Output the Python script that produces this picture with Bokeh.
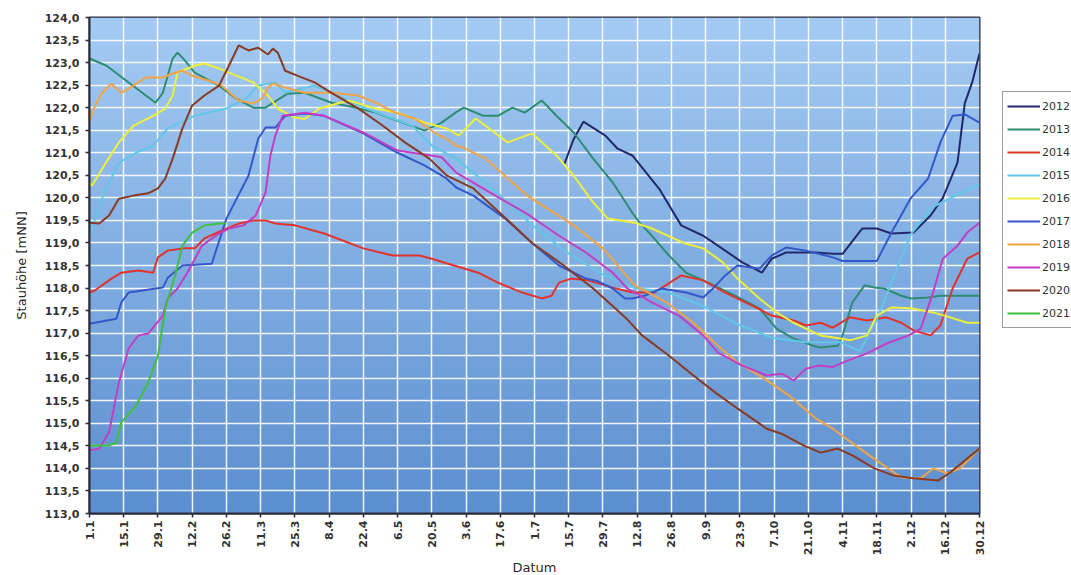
import numpy as np
from bokeh.plotting import figure
from bokeh.models import FixedTicker, CustomJSTickFormatter, Legend, LegendItem, Range1d
from bokeh.embed import file_html
from bokeh.resources import INLINE

# ---------------- data ----------------
x_tick_days = list(range(0, 365, 14))
x_tick_labels = ["1.1", "15.1", "29.1", "12.2", "26.2", "11.3", "25.3", "8.4", "22.4", "6.5",
                 "20.5", "3.6", "17.6", "1.7", "15.7", "29.7", "12.8", "26.8", "9.9", "23.9",
                 "7.10", "21.10", "4.11", "18.11", "2.12", "16.12", "30.12"]
y_ticks = [113.0 + 0.5 * i for i in range(23)]

years = ["2012", "2013", "2014", "2015", "2016", "2017", "2018", "2019", "2020", "2021"]
colors = ["#22296A", "#2E8C72", "#E2322C", "#62C6E6", "#EEEE3C", "#3558C8",
          "#F2A445", "#C23EC4", "#8A3A20", "#3EC03E"]

day_2012 = [194, 198, 202, 211, 216, 222, 233, 242, 251, 257, 267, 275, 279, 285, 297, 304, 308,
            316, 322, 328, 337, 344, 349, 355, 358, 361, 364]
val_2012 = [120.72, 121.3, 121.69, 121.38, 121.09, 120.94, 120.2, 119.39, 119.16, 118.94, 118.57,
            118.34, 118.65, 118.79, 118.79, 118.76, 118.76, 119.32, 119.32, 119.21, 119.23, 119.61,
            120.0, 120.78, 122.1, 122.56, 123.2]

day_2013 = [0, 7, 16, 27, 30, 34, 36, 39, 43, 53, 60, 67, 72, 81, 88, 99, 109, 117, 126, 137, 144,
            150, 153, 161, 167, 173, 178, 185, 191, 198, 206, 214, 222, 225, 230, 237, 244, 253,
            264, 274, 281, 288, 296, 299, 306, 308, 312, 317, 321, 325, 332, 336, 343, 348, 356, 364]
val_2013 = [123.09, 122.93, 122.56, 122.11, 122.33, 123.09, 123.22, 123.05, 122.78, 122.49, 122.2,
            122.0, 122.0, 122.31, 122.33, 122.11, 122.0, 121.89, 121.71, 121.49, 121.67, 121.9,
            122.0, 121.82, 121.82, 122.0, 121.89, 122.16, 121.82, 121.45, 120.87, 120.34, 119.67,
            119.45, 119.16, 118.72, 118.34, 118.12, 117.83, 117.55, 117.1, 116.88, 116.72, 116.68,
            116.72, 116.95, 117.68, 118.06, 118.01, 117.99, 117.83, 117.77, 117.79, 117.83, 117.83,
            117.83]

day_2014 = [0, 2, 9, 13, 20, 26, 28, 32, 39, 43, 47, 54, 61, 67, 72, 76, 84, 96, 112, 124, 135,
            140, 146, 159, 167, 177, 185, 189, 192, 197, 204, 214, 222, 231, 242, 251, 260, 271,
            279, 288, 293, 299, 304, 311, 318, 326, 332, 337, 344, 348, 353, 359, 364]
val_2014 = [117.9, 117.94, 118.21, 118.34, 118.39, 118.34, 118.68, 118.83, 118.88, 118.88, 119.1,
            119.27, 119.43, 119.5, 119.5, 119.43, 119.39, 119.21, 118.88, 118.72, 118.72, 118.65,
            118.55, 118.34, 118.12, 117.9, 117.77, 117.83, 118.12, 118.21, 118.17, 118.01, 117.9,
            117.9, 118.28, 118.17, 117.9, 117.61, 117.39, 117.28, 117.17, 117.23, 117.12, 117.35,
            117.28, 117.35, 117.23, 117.06, 116.95, 117.17, 117.99, 118.65, 118.79]

day_2015 = [0, 6, 12, 19, 26, 32, 43, 56, 64, 69, 76, 80, 92, 99, 110, 121, 132, 140, 150, 156,
            167, 181, 195, 210, 223, 237, 251, 265, 279, 293, 307, 315, 322, 330, 336, 345, 356, 364]
val_2015 = [119.16, 120.12, 120.78, 121.0, 121.16, 121.54, 121.82, 121.98, 122.2, 122.49, 122.56,
            122.33, 122.49, 122.33, 122.05, 121.82, 121.6, 121.16, 120.87, 120.6, 120.1, 119.4,
            118.8, 118.3, 118.0, 117.9, 117.6, 117.2, 116.9, 116.8, 116.8, 116.6, 117.3, 118.4,
            119.2, 119.8, 120.1, 120.3]

day_2016 = [0, 1, 6, 12, 18, 26, 31, 34, 36, 43, 47, 53, 60, 67, 73, 77, 84, 88, 94, 106, 117,
            126, 137, 146, 151, 158, 171, 181, 191, 198, 206, 212, 223, 230, 243, 251, 259, 265,
            274, 281, 288, 293, 299, 307, 311, 318, 322, 328, 336, 345, 352, 359, 364]
val_2016 = [120.34, 120.27, 120.72, 121.23, 121.6, 121.82, 121.98, 122.27, 122.78, 122.93, 122.98,
            122.87, 122.71, 122.56, 122.27, 121.98, 121.78, 121.75, 121.98, 122.16, 121.98, 121.89,
            121.67, 121.54, 121.38, 121.76, 121.23, 121.43, 120.94, 120.49, 119.9, 119.54, 119.45,
            119.32, 119.0, 118.88, 118.57, 118.21, 117.77, 117.46, 117.23, 117.1, 116.95, 116.88,
            116.84, 116.95, 117.39, 117.57, 117.55, 117.46, 117.35, 117.23, 117.23]

day_2017 = [0, 11, 13, 16, 30, 32, 38, 50, 56, 65, 69, 72, 76, 80, 88, 96, 112, 126, 137, 146,
            150, 157, 170, 181, 192, 203, 208, 214, 219, 222, 227, 234, 244, 251, 255, 260, 265,
            274, 279, 285, 293, 304, 308, 322, 328, 336, 343, 348, 353, 358, 364]
val_2017 = [117.21, 117.32, 117.68, 117.9, 118.01, 118.23, 118.5, 118.54, 119.54, 120.49, 121.31,
            121.56, 121.56, 121.82, 121.87, 121.82, 121.43, 121.0, 120.72, 120.43, 120.23, 120.05,
            119.54, 119.0, 118.5, 118.21, 118.15, 117.99, 117.77, 117.77, 117.83, 117.99, 117.9,
            117.79, 117.99, 118.28, 118.5, 118.43, 118.72, 118.9, 118.83, 118.68, 118.6, 118.6,
            119.23, 120.0, 120.43, 121.23, 121.82, 121.85, 121.67]

day_2018 = [0, 1, 5, 9, 13, 18, 23, 30, 34, 38, 42, 49, 54, 61, 67, 71, 73, 75, 80, 88, 99, 110,
            117, 125, 133, 141, 146, 150, 153, 162, 179, 198, 210, 223, 236, 247, 257, 265, 276,
            286, 297, 304, 315, 325, 332, 340, 345, 351, 356, 364]
val_2018 = [121.67, 121.89, 122.33, 122.53, 122.33, 122.49, 122.67, 122.67, 122.76, 122.82, 122.71,
            122.6, 122.49, 122.16, 122.09, 122.22, 122.45, 122.53, 122.45, 122.33, 122.33, 122.27,
            122.11, 121.89, 121.76, 121.45, 121.31, 121.16, 121.11, 120.87, 120.05, 119.39, 118.88,
            118.06, 117.68, 117.23, 116.72, 116.35, 115.99, 115.62, 115.11, 114.88, 114.44, 114.06,
            113.8, 113.78, 114.0, 113.89, 114.0, 114.44]

day_2019 = [0, 4, 8, 12, 16, 20, 24, 30, 32, 36, 40, 46, 53, 57, 63, 68, 72, 74, 76, 79, 88, 96,
            112, 126, 132, 140, 144, 150, 154, 166, 180, 192, 203, 214, 220, 230, 241, 251, 257,
            267, 277, 283, 288, 293, 298, 304, 310, 318, 326, 335, 340, 345, 349, 355, 359, 364]
val_2019 = [114.4, 114.44, 114.8, 115.9, 116.66, 116.95, 116.99, 117.39, 117.77, 117.99, 118.34,
            118.94, 119.21, 119.32, 119.39, 119.61, 120.12, 120.94, 121.38, 121.82, 121.89, 121.82,
            121.45, 121.05, 121.0, 120.94, 120.9, 120.56, 120.43, 120.05, 119.61, 119.16, 118.79,
            118.34, 117.99, 117.68, 117.39, 116.95, 116.57, 116.28, 116.06, 116.1, 115.95, 116.21,
            116.28, 116.25, 116.39, 116.55, 116.77, 116.95, 117.1, 117.9, 118.65, 118.94, 119.23,
            119.45]

day_2020 = [0, 4, 8, 12, 18, 24, 28, 31, 34, 38, 42, 47, 53, 57, 61, 65, 69, 73, 75, 77, 80, 85,
            92, 99, 110, 120, 129, 139, 146, 157, 169, 181, 194, 206, 215, 220, 226, 237, 247, 256,
            265, 277, 283, 292, 299, 306, 312, 321, 329, 337, 347, 352, 357, 364]
val_2020 = [119.45, 119.43, 119.61, 119.98, 120.05, 120.1, 120.21, 120.43, 120.87, 121.54, 122.05,
            122.27, 122.49, 122.93, 123.38, 123.27, 123.33, 123.18, 123.31, 123.22, 122.82, 122.71,
            122.56, 122.33, 121.98, 121.6, 121.23, 120.87, 120.5, 120.21, 119.61, 119.0, 118.5,
            117.99, 117.55, 117.3, 116.95, 116.5, 116.06, 115.68, 115.33, 114.88, 114.77, 114.51,
            114.35, 114.44, 114.29, 114.0, 113.84, 113.78, 113.73, 113.91, 114.13, 114.44]

day_2021 = [0, 8, 11, 13, 19, 24, 28, 31, 35, 38, 42, 47, 53, 56]
val_2021 = [114.51, 114.51, 114.57, 115.02, 115.39, 115.9, 116.5, 117.55, 118.28, 118.94, 119.23,
            119.39, 119.43, 119.43]

series_days = [day_2012, day_2013, day_2014, day_2015, day_2016, day_2017, day_2018, day_2019,
               day_2020, day_2021]
series_vals = [val_2012, val_2013, val_2014, val_2015, val_2016, val_2017, val_2018, val_2019,
               val_2020, val_2021]

# ---------------- figure ----------------
FONT = "DejaVu Sans"
p = figure(frame_width=890, frame_height=496, output_backend="svg", toolbar_location=None,
           x_range=Range1d(0, 364), y_range=Range1d(113, 124),
           min_border_left=89, min_border_right=92, min_border_top=17, min_border_bottom=62)
p.background_fill_color = "#7FAEE2"
p.border_fill_color = "white"
p.outline_line_color = "#2A2A3A"
p.outline_line_width = 2

# vertical gradient background of the plot area
n = 200
top = np.array([164, 203, 243])
bot = np.array([92, 143, 208])
img = np.empty((n, 1), dtype=np.uint32)
view = img.view(dtype=np.uint8).reshape((n, 1, 4))
for i in range(n):
    t = i / (n - 1)  # 0 bottom -> 1 top
    c = bot + (top - bot) * t
    view[i, 0, 0] = int(c[0]); view[i, 0, 1] = int(c[1]); view[i, 0, 2] = int(c[2]); view[i, 0, 3] = 255
p.image_rgba(image=[img], x=0, y=113, dw=364, dh=11, level="image")

# axes
p.xaxis.ticker = FixedTicker(ticks=x_tick_days)
p.xaxis.major_label_overrides = {d: lab for d, lab in zip(x_tick_days, x_tick_labels)}
p.xaxis.major_label_orientation = np.pi / 2
p.yaxis.ticker = FixedTicker(ticks=y_ticks)
p.yaxis.formatter = CustomJSTickFormatter(code="return tick.toFixed(1).replace('.', ',');")

for ax in (p.xaxis[0], p.yaxis[0]):
    ax.axis_line_color = "#2A2A3A"
    ax.axis_line_width = 2
    ax.major_tick_line_color = "#2A2A3A"
    ax.major_tick_line_width = 1.5
    ax.major_tick_out = 4
    ax.major_tick_in = 0
    ax.minor_tick_line_color = None
    ax.major_label_text_font = FONT
    ax.major_label_text_font_style = "bold"
    ax.major_label_text_color = "#333333"
    ax.axis_label_text_font = FONT
    ax.axis_label_text_font_style = "normal"
    ax.axis_label_text_color = "#2A2A2A"

p.xaxis.major_label_text_font_size = "11px"
p.xaxis.major_label_standoff = 3
p.yaxis.major_label_text_font_size = "11px"
p.yaxis.major_label_standoff = 6

p.xaxis.axis_label = "Datum"
p.xaxis.axis_label_text_font_size = "13px"
p.xaxis.axis_label_standoff = 2
p.yaxis.axis_label = "Stauhöhe [mNN]"
p.yaxis.axis_label_text_font_size = "13px"
p.yaxis.axis_label_standoff = 13

# grid
for g in (p.xgrid[0], p.ygrid[0]):
    g.grid_line_color = "white"
    g.grid_line_alpha = 0.9
    g.grid_line_width = 1.5
p.xgrid.ticker = FixedTicker(ticks=x_tick_days)
p.ygrid.ticker = FixedTicker(ticks=y_ticks)

# lines
items = []
for yr, col, dd, vv in zip(years, colors, series_days, series_vals):
    r = p.line(dd, vv, line_color=col, line_width=2)
    items.append(LegendItem(label=yr, renderers=[r]))

legend = Legend(items=items, location=(23, 185))
legend.border_line_color = "#3A3A3A"
legend.border_line_width = 1.5
legend.background_fill_color = "white"
legend.background_fill_alpha = 1.0
legend.label_text_font = FONT
legend.label_text_font_size = "11px"
legend.label_text_color = "#333333"
legend.glyph_width = 33
legend.glyph_height = 20
legend.label_height = 20
legend.spacing = 3
legend.padding = 4
legend.margin = 0
legend.label_standoff = 2
p.add_layout(legend, "right")

open("out.html", "w").write(file_html(p, INLINE))
